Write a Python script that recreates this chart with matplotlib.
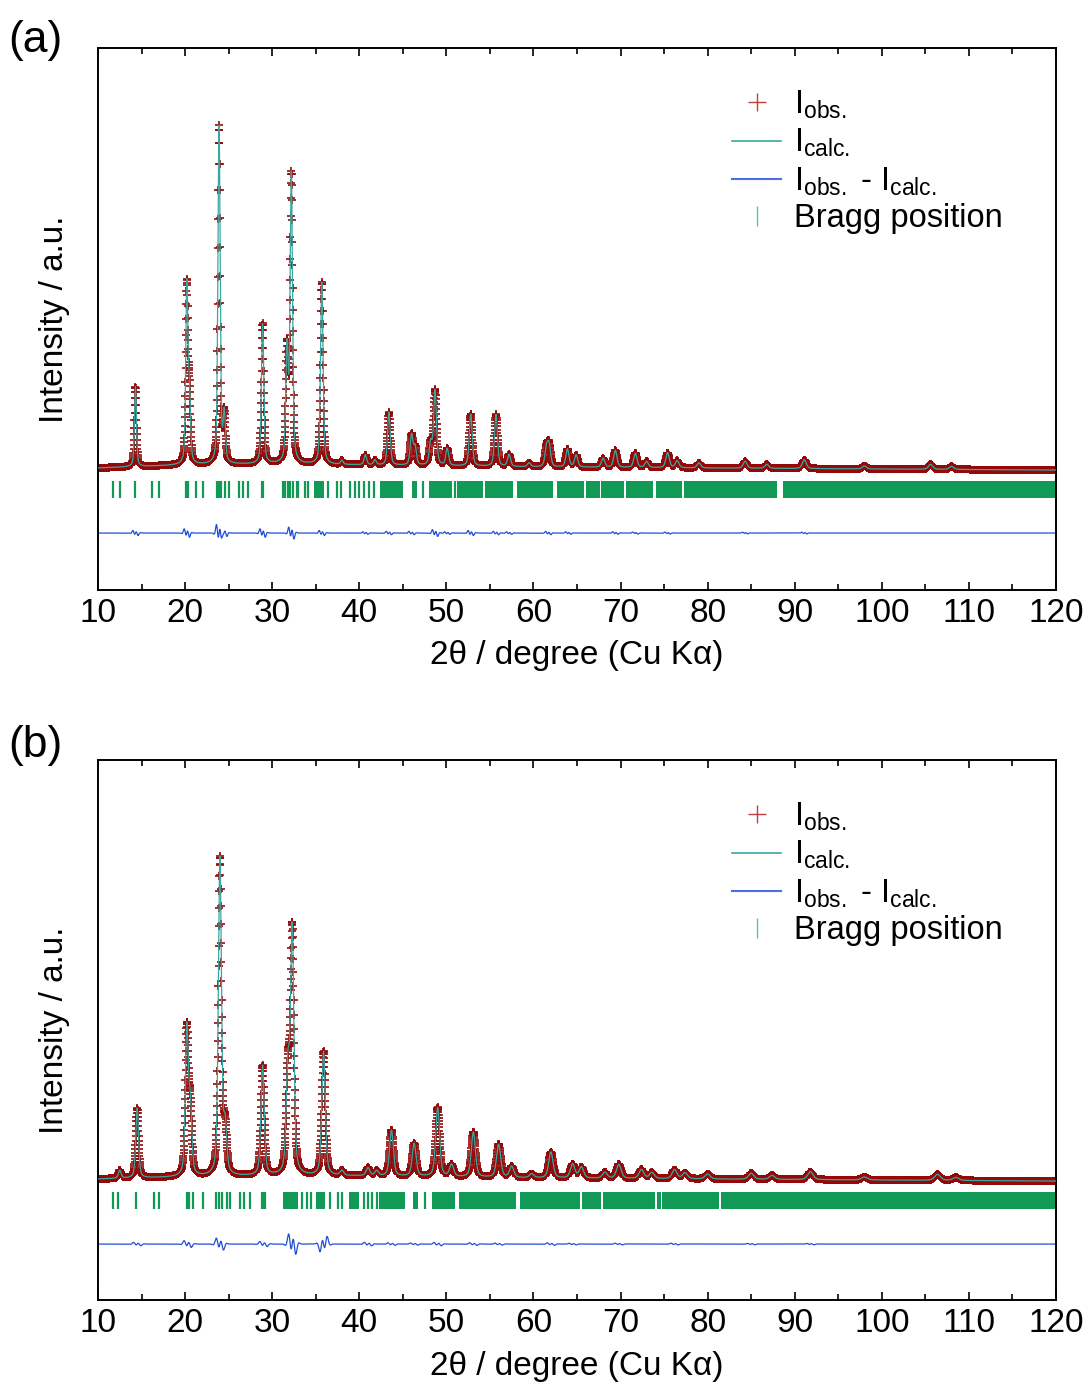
import numpy as np
import matplotlib
matplotlib.use('Agg')
import matplotlib.pyplot as plt
from matplotlib.lines import Line2D
from matplotlib.ticker import MultipleLocator

plt.rcParams['font.family'] = ['Liberation Sans', 'DejaVu Sans']
plt.rcParams['mathtext.fontset'] = 'custom'
plt.rcParams['mathtext.rm'] = 'Liberation Sans'
plt.rcParams['mathtext.it'] = 'Liberation Sans'

# ---- data (intensity in a.u., baseline = 0) ----
# panel (a)
peak_pos_a = [14.3, 20.2, 20.5, 23.9, 24.5, 28.9, 31.7, 32.2, 35.7, 38.0, 40.7, 41.8,
              43.4, 46.0, 46.4, 48.2, 48.7, 50.1, 52.8, 55.7, 57.2, 59.5, 61.5, 61.8,
              63.9, 64.9, 68.0, 69.4, 71.7, 73.0, 75.4, 76.5, 79.0, 84.3, 86.8, 91.1,
              98.0, 105.6, 108.0]
peak_int_a = [80, 178, 68, 338, 48, 140, 112, 288, 182, 4, 10, 5,
              53, 30, 18, 22, 75, 17, 52, 52, 12, 4, 18, 20,
              18, 12, 9, 17, 14, 6, 15, 7, 5, 7, 4, 9,
              3, 5, 3]
bg_x_a = [10, 20, 30, 40, 60, 80, 100, 120]
bg_y_a = [-1, 2, 3, 2, 0, -1, -2, -3]
diff_pos_a = [14.3, 20.2, 23.9, 24.5, 28.9, 32.2, 35.7, 40.7, 43.4, 46.0, 48.7, 50.1,
              52.8, 55.7, 57.2, 61.7, 64.0, 69.4, 71.7, 75.4, 84.3, 91.1]
diff_amp_a = [3, 5, 10, 4, 5, 7, 3, 1.5, 2, 2, 4, 1.5,
              3, 2, 1.5, 2, 1.5, 1.5, 1.2, 1.2, 1, 1]
bragg_a = [11.7, 12.5, 14.2, 16.2, 17.0, 20.1, 20.3, 21.3, 22.1, 23.7, 23.9, 24.1,
           24.6, 25.0, 26.2, 26.7, 27.2, 28.8, 29.0, 31.2, 31.5, 31.8, 32.1, 32.4,
           32.8, 33.0, 33.8, 34.1, 36.4, 37.4, 37.9, 38.9, 39.5, 40.0, 40.5, 41.1,
           41.7, 47.3, 51.0]
bragg_band_a = [(34.8, 35.9), (42.4, 45.0), (46.0, 46.6), (48.0, 50.6), (51.2, 54.2),
                (54.4, 57.6), (58.1, 62.3), (62.7, 65.8), (66.0, 67.6), (67.8, 70.4),
                (70.6, 73.7), (74.1, 77.1), (77.3, 88.0), (88.7, 120.0)]

# panel (b)
peak_pos_b = [12.5, 14.5, 20.2, 20.6, 24.0, 24.6, 28.9, 31.8, 32.3, 35.9, 38.0, 41.0,
              42.0, 43.7, 46.3, 49.0, 50.6, 53.1, 56.0, 57.5, 59.8, 62.0, 64.5, 65.5,
              68.2, 69.8, 72.4, 73.6, 76.2, 77.4, 80.0, 85.0, 87.4, 91.8, 98.0, 106.4,
              108.5]
peak_int_b = [8, 70, 146, 66, 318, 46, 110, 100, 244, 124, 5, 8,
              5, 46, 33, 69, 12, 45, 33, 11, 4, 26, 14, 11,
              6, 14, 9, 6, 9, 6, 5, 6, 4, 8, 3, 6,
              3]
bg_x_b = [10, 20, 30, 40, 60, 80, 100, 120]
bg_y_b = [-1, 1, 2, 2, 0, -1, -2, -3]
diff_pos_b = [14.5, 20.3, 24.0, 29.0, 32.3, 35.9, 41.0, 43.7, 46.3, 49.0, 53.1, 56.0,
              62.0, 64.5, 69.8, 76.2, 85.0, 91.8]
diff_amp_b = [2, 4, 7, 3, 12, -9, 2, 1.5, 1.2, 2, 1.5, 1.2,
              1.5, 1, 1, 1, 0.8, 0.8]
bragg_b = [11.7, 12.3, 14.4, 16.4, 17.0, 20.2, 20.5, 20.9, 22.1, 23.6, 23.9, 24.2,
           24.8, 25.2, 26.3, 26.8, 27.4, 28.8, 29.0, 29.2, 33.4, 34.0, 34.5, 36.6,
           37.6, 38.0, 40.5, 41.0, 41.5, 42.0, 47.6]
bragg_band_b = [(31.3, 33.0), (35.0, 36.1), (38.8, 40.0), (42.3, 45.3), (46.2, 46.8),
                (48.3, 51.0), (51.5, 58.0), (58.4, 65.4), (65.6, 67.8), (68.0, 74.0),
                (74.2, 74.6), (74.8, 81.3), (81.5, 120.0)]

x_ticks = list(range(10, 121, 10))


def profile(x, pos, inten, width0):
    y = np.zeros_like(x)
    for p, h in zip(pos, inten):
        w = width0 * (1 + (p - 10) / 80.0)
        g = np.exp(-4 * np.log(2) * ((x - p) / w) ** 2)
        l = 1.0 / (1 + 4 * ((x - p) / w) ** 2)
        y += h * (0.55 * g + 0.45 * l)
    return y


def diff_curve(x, pos, amp, width0):
    y = np.zeros_like(x)
    for p, a in zip(pos, amp):
        w = width0 * 1.2
        t = (x - p) / w
        y += a * t * np.exp(-t ** 2) * 2.3 * np.cos(3 * t)
    return y


def draw_panel(ax, pos, inten, bgx, bgy, dpos, damp, bragg, band, width0, ylim):
    x = np.arange(10, 120.001, 0.02)
    calc = profile(x, pos, inten, width0) + np.interp(x, bgx, bgy)
    ax.plot(x, calc, ls='none', marker='+', ms=6, mew=1.2, color='#950808', zorder=2)
    ax.plot(x, calc, color='#3aa6a0', lw=0.9, zorder=3)
    ax.vlines(bragg, -31, -14, color='#109a55', lw=1.6, zorder=2)
    ax.broken_barh([(s, e - s) for s, e in band], (-31, 17), color='#109a55', lw=0, zorder=2)
    ax.plot(x, -66 + diff_curve(x, dpos, damp, width0), color='#1f4fd6', lw=0.9, zorder=2)

    ax.set_xlim(10, 120)
    ax.set_ylim(*ylim)
    ax.set_xticks(x_ticks)
    ax.xaxis.set_minor_locator(MultipleLocator(5))
    ax.tick_params(axis='x', which='both', direction='in', top=True, labelsize=24, pad=6)
    ax.tick_params(axis='x', which='major', length=6, width=1.2)
    ax.tick_params(axis='x', which='minor', length=4, width=1.2)
    ax.set_yticks([])
    for s in ax.spines.values():
        s.set_linewidth(1.4)
    ax.set_xlabel('2θ / degree (Cu Kα)', fontsize=24, labelpad=8)
    ax.set_ylabel('Intensity / a.u.', fontsize=24, labelpad=20)

    handles = [Line2D([], [], ls='none', marker='+', ms=13, mew=1.0, color='#c43c3c'),
               Line2D([], [], color='#3aa6a0', lw=1.2),
               Line2D([], [], color='#4a6fe0', lw=1.5),
               Line2D([], [], ls='none', marker='|', ms=14, mew=1.0, color='#5cc49a')]
    labels = [r'I$_{\mathrm{obs.}}$', r'I$_{\mathrm{calc.}}$',
              r'I$_{\mathrm{obs.}}$ - I$_{\mathrm{calc.}}$', 'Bragg position']
    ax.legend(handles, labels, loc='upper left', bbox_to_anchor=(0.645, 0.955),
              frameon=False, fontsize=23.5, handlelength=1.5, handletextpad=0.4,
              labelspacing=0.18, borderpad=0)


fig = plt.figure(figsize=(10.9, 13.9), dpi=100)
ax_a = fig.add_axes([0.0899, 0.5755, 0.8789, 0.39])
ax_b = fig.add_axes([0.0899, 0.0647, 0.8789, 0.3885])

draw_panel(ax_a, peak_pos_a, peak_int_a, bg_x_a, bg_y_a, diff_pos_a, diff_amp_a,
           bragg_a, bragg_band_a, 0.26, (-123, 419))
draw_panel(ax_b, peak_pos_b, peak_int_b, bg_x_b, bg_y_b, diff_pos_b, diff_amp_b,
           bragg_b, bragg_band_b, 0.36, (-122, 418))

fig.text(0.008, 0.971, '(a)', fontsize=32, va='center', ha='left')
fig.text(0.008, 0.464, '(b)', fontsize=32, va='center', ha='left')

fig.savefig('out.png', dpi=100)
